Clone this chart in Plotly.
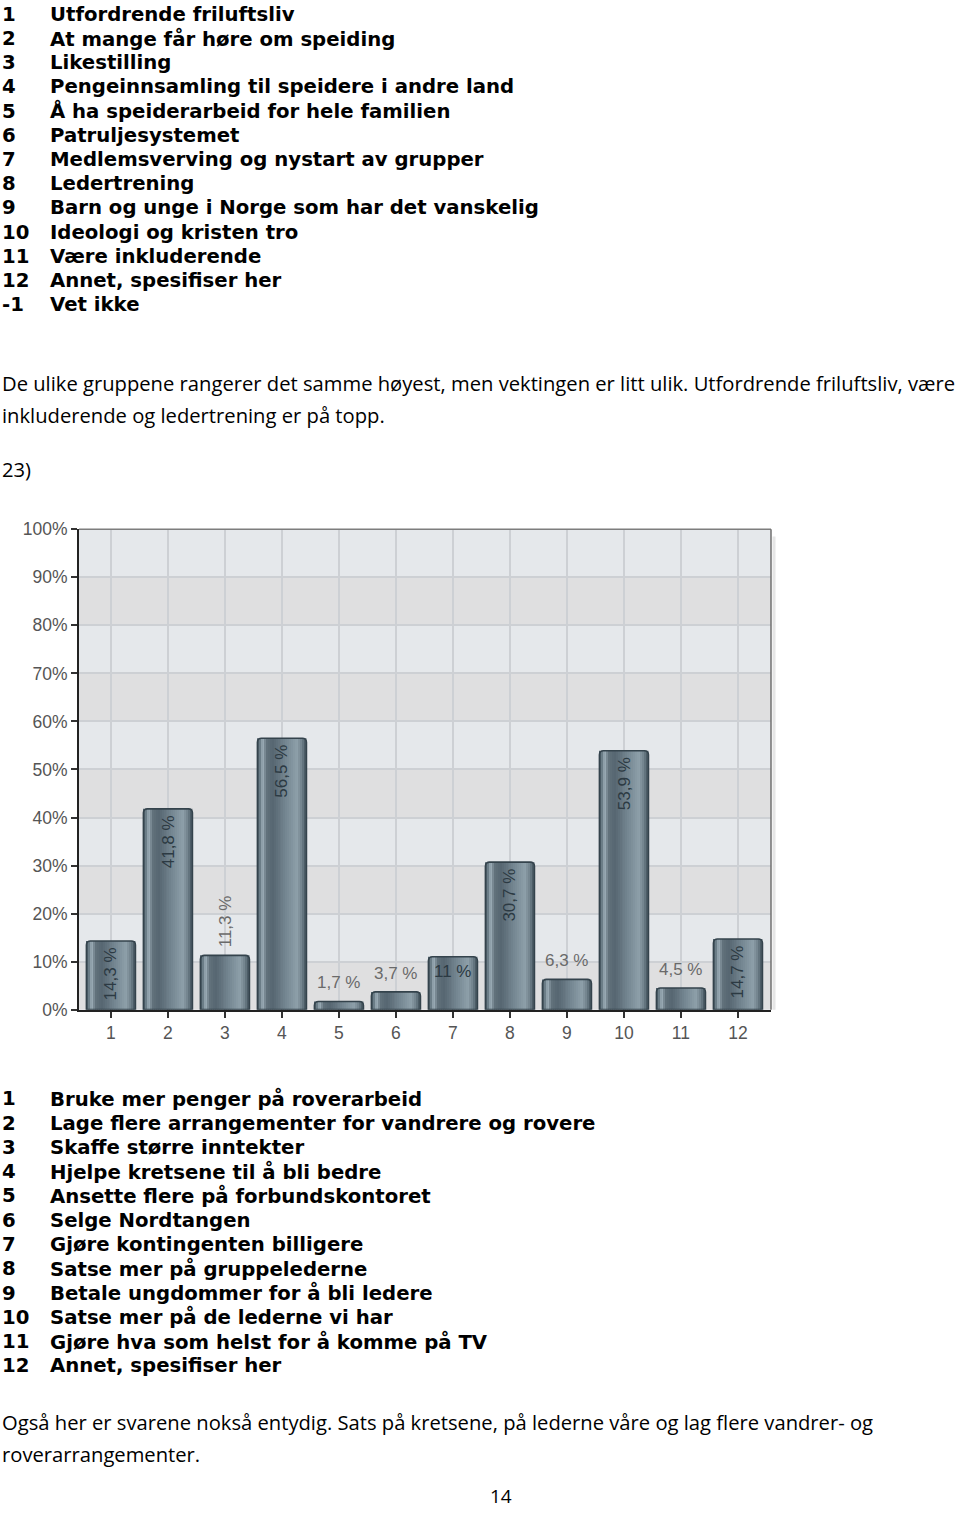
import plotly.graph_objects as go

# ---------------- data ----------------
categories = list(range(1, 13))
values = [14.3, 41.8, 11.3, 56.5, 1.7, 3.7, 11.0, 30.7, 6.3, 53.9, 4.5, 14.7]
value_labels = ["14,3 %", "41,8 %", "11,3 %", "56,5 %", "1,7 %", "3,7 %",
                "11 %", "30,7 %", "6,3 %", "53,9 %", "4,5 %", "14,7 %"]
x_tick_labels = [str(c) for c in categories]
y_tick_values = list(range(0, 101, 10))
y_tick_labels = [f"{v}%" for v in y_tick_values]

top_numbers = ["1", "2", "3", "4", "5", "6", "7", "8", "9", "10", "11", "12", "-1"]
top_items = ["Utfordrende friluftsliv", "At mange får høre om speiding", "Likestilling",
             "Pengeinnsamling til speidere i andre land", "Å ha speiderarbeid for hele familien",
             "Patruljesystemet", "Medlemsverving og nystart av grupper", "Ledertrening",
             "Barn og unge i Norge som har det vanskelig", "Ideologi og kristen tro",
             "Være inkluderende", "Annet, spesifiser her", "Vet ikke"]
para1 = ["De ulike gruppene rangerer det samme høyest, men vektingen er litt ulik. Utfordrende friluftsliv, være",
         "inkluderende og ledertrening er på topp."]
question_no = "23)"
bottom_numbers = [str(i) for i in range(1, 13)]
bottom_items = ["Bruke mer penger på roverarbeid", "Lage flere arrangementer for vandrere og rovere",
                "Skaffe større inntekter", "Hjelpe kretsene til å bli bedre",
                "Ansette flere på forbundskontoret", "Selge Nordtangen",
                "Gjøre kontingenten billigere", "Satse mer på gruppelederne",
                "Betale ungdommer for å bli ledere", "Satse mer på de lederne vi har",
                "Gjøre hva som helst for å komme på TV", "Annet, spesifiser her"]
para2 = ["Også her er svarene nokså entydig. Sats på kretsene, på lederne våre og lag flere vandrer- og",
         "roverarrangementer."]
page_no = "14"

# ---------------- style ----------------
W, H = 960, 1515
PLOT_L, PLOT_R, PLOT_T, PLOT_B = 79, 771, 528, 1010
BAR_W = 0.86
label_modes = ["in_v", "in_v", "out_v", "in_v", "out_h", "out_h",
               "in_h", "in_v", "out_h", "in_v", "out_h", "in_v"]
grad_stops = [(0.00, (66, 82, 92)), (0.05, (100, 118, 128)), (0.12, (163, 180, 190)),
              (0.20, (98, 114, 124)), (0.32, (86, 102, 113)), (0.60, (117, 135, 146)),
              (0.82, (143, 161, 171)), (0.92, (112, 129, 139)), (1.00, (66, 82, 92))]


def grad_color(t):
    for (t0, c0), (t1, c1) in zip(grad_stops[:-1], grad_stops[1:]):
        if t0 <= t <= t1:
            f = (t - t0) / (t1 - t0) if t1 > t0 else 0
            return "rgb(%d,%d,%d)" % tuple(round(a + (b - a) * f) for a, b in zip(c0, c1))
    return "rgb(66,82,92)"


def py(y):
    # page pixel -> paper fraction (calibrated to the rendered page)
    return 1 - (y - 7) / 1500.0


fig = go.Figure()

N = 26
sw = BAR_W / N
for i in range(N):
    t = (i + 0.5) / N
    fig.add_trace(go.Bar(x=categories, y=values, width=sw, offset=-BAR_W / 2 + i * sw,
                         marker=dict(color=grad_color(t), line=dict(width=0)),
                         showlegend=False, hoverinfo="skip"))
fig.add_trace(go.Bar(x=categories, y=values, width=BAR_W, offset=-BAR_W / 2,
                     marker=dict(color="rgba(0,0,0,0)", line=dict(color="#34434c", width=1.6),
                                 cornerradius=4),
                     showlegend=False, hoverinfo="skip"))

annotations = []
lab_font = "Liberation Sans, Arial, sans-serif"
for c, v, lab, mode in zip(categories, values, value_labels, label_modes):
    common = dict(x=c, y=v, xref="x", yref="y", text=lab, showarrow=False)
    if mode == "in_v":
        annotations.append(dict(common, textangle=-90, yanchor="top", yshift=-4,
                                font=dict(family=lab_font, size=17, color="#2c3a43")))
    elif mode == "out_v":
        annotations.append(dict(common, textangle=-90, yanchor="bottom", yshift=6,
                                font=dict(family=lab_font, size=17, color="#6a6a6a")))
    elif mode == "out_h":
        annotations.append(dict(common, yanchor="bottom", yshift=7,
                                font=dict(family=lab_font, size=17, color="#6a6a6a")))
    else:
        annotations.append(dict(common, yanchor="top", yshift=-3,
                                font=dict(family=lab_font, size=17, color="#2c3a43")))

list_font = dict(family="DejaVu Sans, Verdana, sans-serif", size=19.7, color="#000", weight="bold")
body_font = dict(family="Open Sans, sans-serif", size=20.2, color="#000")

for k, (n, t) in enumerate(zip(top_numbers, top_items)):
    yy = 11.5 + k * 24.25
    annotations.append(dict(x=0, y=py(yy), xref="paper", yref="paper", text=n, showarrow=False,
                            xanchor="left", yanchor="middle", font=list_font))
    annotations.append(dict(x=48 / W, y=py(yy), xref="paper", yref="paper", text=t, showarrow=False,
                            xanchor="left", yanchor="middle", font=list_font))
for k, (n, t) in enumerate(zip(bottom_numbers, bottom_items)):
    yy = 1099.5 + k * 24.35
    annotations.append(dict(x=0, y=py(yy), xref="paper", yref="paper", text=n, showarrow=False,
                            xanchor="left", yanchor="middle", font=list_font))
    annotations.append(dict(x=48 / W, y=py(yy), xref="paper", yref="paper", text=t, showarrow=False,
                            xanchor="left", yanchor="middle", font=list_font))
for k, line in enumerate(para1):
    annotations.append(dict(x=0, y=py(381 + k * 32), xref="paper", yref="paper", text=line,
                            showarrow=False, xanchor="left", yanchor="middle", font=body_font))
annotations.append(dict(x=0, y=py(468), xref="paper", yref="paper", text=question_no,
                        showarrow=False, xanchor="left", yanchor="middle", font=body_font))
for k, line in enumerate(para2):
    annotations.append(dict(x=0, y=py(1424 + k * 32), xref="paper", yref="paper", text=line,
                            showarrow=False, xanchor="left", yanchor="middle", font=body_font))
annotations.append(dict(x=501 / W, y=py(1498), xref="paper", yref="paper", text=page_no,
                        showarrow=False, xanchor="center", yanchor="middle",
                        font=dict(body_font, size=19)))

shapes = []
for lo in range(0, 100, 20):
    shapes.append(dict(type="rect", xref="x domain", yref="y", x0=0, x1=1, y0=lo, y1=lo + 10,
                       fillcolor="#dfdfe0", line=dict(width=0), layer="below"))
shapes.append(dict(type="line", xref="x domain", yref="y domain", x0=0, x1=1, y0=1, y1=1,
                   line=dict(color="#7d7d7d", width=1.5)))
shapes.append(dict(type="line", xref="x domain", yref="y domain", x0=1, x1=1, y0=0, y1=1,
                   line=dict(color="#6f6f6f", width=1.5)))
shapes.append(dict(type="line", xref="paper", yref="y domain", x0=774 / W, x1=774 / W, y0=0, y1=0.985,
                   line=dict(color="#e6e6e6", width=3)))

axis_font = dict(family=lab_font, size=17.5, color="#555")
fig.update_layout(
    width=W, height=H, margin=dict(l=0, r=0, t=0, b=0),
    paper_bgcolor="white", plot_bgcolor="#e5e8eb",
    barmode="overlay", showlegend=False,
    annotations=annotations, shapes=shapes,
    xaxis=dict(domain=[PLOT_L / W, PLOT_R / W], range=[0.44, 12.58],
               tickvals=categories, ticktext=x_tick_labels, tickfont=axis_font,
               showgrid=True, gridcolor="#cdd0d4", gridwidth=1.5,
               ticks="outside", ticklen=6, tickwidth=2, tickcolor="#333",
               showline=True, linecolor="#222", linewidth=2, zeroline=False, fixedrange=True),
    yaxis=dict(domain=[py(PLOT_B), py(PLOT_T)], range=[0, 100],
               tickvals=y_tick_values, ticktext=y_tick_labels, tickfont=axis_font,
               showgrid=True, gridcolor="#cdd0d4", gridwidth=1.5,
               ticks="outside", ticklen=6, tickwidth=2, tickcolor="#333",
               showline=True, linecolor="#222", linewidth=2, zeroline=False, fixedrange=True),
)

fig.write_html("out.html")
